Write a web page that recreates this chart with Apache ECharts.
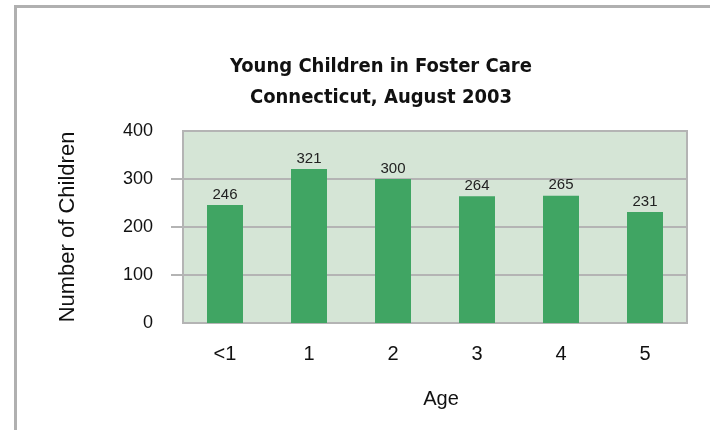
<!DOCTYPE html>
<html>
<head>
<meta charset="utf-8">
<script src="https://cdn.jsdelivr.net/npm/echarts@6/dist/echarts.min.js"></script>
<style>
  body { margin: 0; background: #fff; }
  #frame { position: absolute; left: 14px; top: 5px; right: 0; bottom: 0;
           border-top: 3px solid #b0b0b0; border-left: 3px solid #b0b0b0; }
  #main { position: absolute; left: 0; top: 0; width: 710px; height: 430px; }
</style>
</head>
<body>
<div id="frame"></div>
<div id="main"></div>
<script>
const ages = ['<1', '1', '2', '3', '4', '5']
const children = [246, 321, 300, 264, 265, 231]
const yTicks = [100, 200, 300]

const myChart = echarts.init(document.getElementById('main'))
myChart.setOption({
  animation: false,
  title: {
    text: 'Young Children in Foster Care\nConnecticut, August 2003',
    left: 376,
    top: 46,
    textAlign: 'center',
    textStyle: {
      fontFamily: '"Liberation Sans Narrow", "DejaVu Sans Condensed", sans-serif',
      fontWeight: 'bold',
      fontSize: 20,
      lineHeight: 31,
      color: '#111'
    }
  },
  grid: {
    left: 183,
    right: 23,
    top: 131,
    bottom: 107,
    show: true,
    backgroundColor: '#d5e5d6',
    borderColor: '#b4b4b4',
    borderWidth: 2
  },
  xAxis: {
    type: 'category',
    data: ages,
    name: 'Age',
    nameLocation: 'middle',
    nameGap: 66,
    nameTextStyle: { fontFamily: 'Liberation Sans', fontSize: 20, color: '#111', padding: [0, 0, 0, 12] },
    axisLine: { show: false },
    axisTick: { show: false },
    axisLabel: { margin: 21, fontFamily: 'Liberation Sans', fontSize: 20, color: '#111' }
  },
  yAxis: {
    type: 'value',
    min: 0,
    max: 400,
    interval: 100,
    name: 'Number of Children',
    nameLocation: 'middle',
    nameGap: 104,
    nameTextStyle: { fontFamily: 'Liberation Sans', fontSize: 22, color: '#111' },
    axisLine: { show: false },
    axisTick: {
      show: true,
      length: 12,
      customValues: yTicks,
      lineStyle: { color: '#b4b4b4', width: 2 }
    },
    axisLabel: { margin: 30, fontFamily: 'Liberation Sans', fontSize: 18, color: '#111' },
    splitLine: { lineStyle: { color: '#b4b4b4', width: 2 } }
  },
  series: [
    {
      type: 'bar',
      data: children,
      barWidth: 36,
      itemStyle: { color: '#40a563' },
      label: {
        show: true,
        position: 'top',
        distance: 3,
        fontFamily: 'Liberation Sans',
        fontSize: 15,
        color: '#222'
      }
    }
  ]
})
</script>
</body>
</html>
